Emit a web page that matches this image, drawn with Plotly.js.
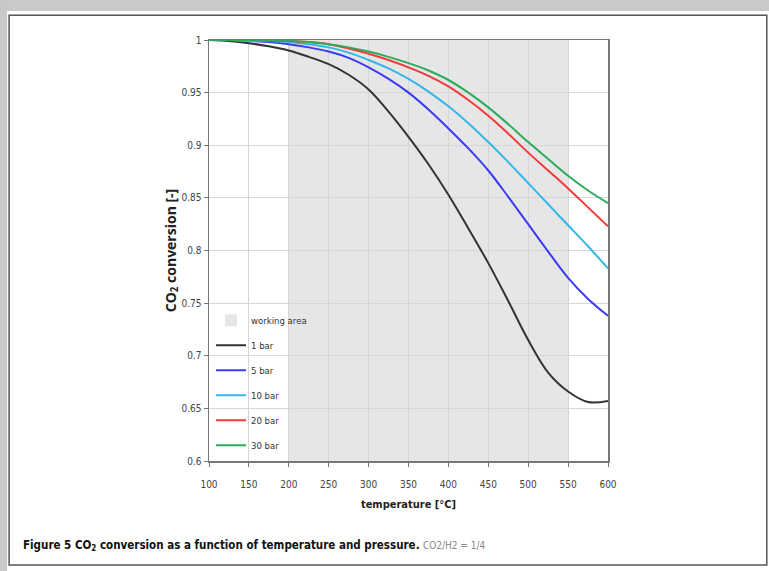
<!DOCTYPE html>
<html>
<head>
<meta charset="utf-8">
<script src="https://cdn.plot.ly/plotly-3.0.1.min.js"></script>
<style>html,body{margin:0;padding:0;background:#fff;}#chart{width:769px;height:571px;}</style>
</head>
<body>
<div id="chart"></div>
<script>
const temperature = [100,125,150,175,200,225,250,275,300,325,350,375,400,425,450,475,500,525,550,575,600];
const bar1  = [1.000,0.999,0.997,0.994,0.990,0.984,0.977,0.967,0.953,0.932,0.908,0.882,0.853,0.821,0.788,0.752,0.715,0.684,0.666,0.656,0.657];
const bar5  = [1.000,1.000,0.999,0.998,0.996,0.993,0.989,0.983,0.974,0.963,0.950,0.934,0.916,0.897,0.876,0.851,0.825,0.799,0.774,0.754,0.738];
const bar10 = [1.000,1.000,0.999,0.999,0.998,0.996,0.993,0.988,0.981,0.973,0.963,0.951,0.937,0.921,0.903,0.884,0.864,0.844,0.824,0.804,0.783];
const bar20 = [1.000,1.000,1.000,0.999,0.999,0.998,0.996,0.992,0.987,0.981,0.974,0.966,0.956,0.943,0.928,0.911,0.893,0.876,0.859,0.841,0.823];
const bar30 = [1.000,1.000,1.000,1.000,0.999,0.998,0.996,0.993,0.989,0.984,0.978,0.971,0.962,0.950,0.936,0.920,0.903,0.887,0.871,0.857,0.845];
const seriesNames = ['1 bar','5 bar','10 bar','20 bar','30 bar'];
const seriesColors = ['#333333','#3b3bf5','#35b6ea','#f23a3a','#2eaa5c'];
const workingArea = [200, 550];
const yTicks = [0.6,0.65,0.7,0.75,0.8,0.85,0.9,0.95,1];
const yTickText = ['0.6','0.65','0.7','0.75','0.8','0.85','0.9','0.95','1'];
const xTicks = [100,150,200,250,300,350,400,450,500,550,600];

const narrow = '"DejaVu Sans Condensed", "Liberation Sans Narrow", "Liberation Sans", sans-serif';
const allSeries = [bar1, bar5, bar10, bar20, bar30];
const traces = allSeries.map((ys, i) => ({
  x: temperature, y: ys, type: 'scatter', mode: 'lines', name: seriesNames[i],
  line: {color: seriesColors[i], width: 2, shape: 'spline', smoothing: 1},
  legendgroup: 'g' + i
}));

const layout = {
  width: 769, height: 571,
  margin: {l: 209, r: 161, t: 40, b: 110},
  paper_bgcolor: '#ffffff', plot_bgcolor: '#ffffff',
  showlegend: true,
  legend: {x: 0.005, y: 0.369, xanchor: 'left', yanchor: 'top', bgcolor: 'rgba(0,0,0,0)',
           font: {family: narrow, size: 9.5, color: '#333'}, traceorder: 'grouped', tracegroupgap: 6,
           itemwidth: 30},
  xaxis: {range: [100, 600], tickvals: xTicks, ticktext: xTicks.map(String),
          showgrid: true, gridcolor: '#d6d6d6', gridwidth: 1, zeroline: false,
          showline: true, linecolor: '#777', linewidth: 1.5, mirror: true,
          ticks: 'outside', ticklen: 4, tickcolor: '#777', ticklabelstandoff: 9,
          tickfont: {family: narrow, size: 10, color: '#444'},
          title: {text: 'temperature [°C]', font: {family: narrow, size: 11, color: '#222', weight: 'bold'}, standoff: 12}},
  yaxis: {range: [0.6, 1], tickvals: yTicks, ticktext: yTickText,
          showgrid: true, gridcolor: '#d6d6d6', gridwidth: 1, zeroline: false,
          showline: true, linecolor: '#777', linewidth: 1.5, mirror: true,
          ticks: 'outside', ticklen: 4, tickcolor: '#777',
          tickfont: {family: narrow, size: 10, color: '#444'},
          title: {text: 'CO<sub>2</sub> conversion [-]', font: {family: '"Open Sans", "Liberation Sans", sans-serif', size: 14, color: '#222', weight: 'bold'}, standoff: 0}},
  shapes: [
    {type: 'rect', xref: 'x', yref: 'paper', x0: workingArea[0], x1: workingArea[1], y0: 0, y1: 1,
     fillcolor: '#e6e6e6', line: {width: 0}, layer: 'below', showlegend: true, name: 'working area',
     legendrank: 1, legendgroup: 'wa'},
    {type: 'rect', xref: 'paper', yref: 'paper', x0: -0.53, x1: 1.41, y0: 1.069, y1: 1.1, fillcolor: '#c9c9c9', line: {width: 0}, layer: 'below'},
    {type: 'rect', xref: 'paper', yref: 'paper', x0: -0.53, x1: -0.506, y0: -0.3, y1: 1.1, fillcolor: '#c9c9c9', line: {width: 0}, layer: 'below'},
    {type: 'rect', xref: 'paper', yref: 'paper', x0: -0.501, x1: 1.398, y0: -0.247, y1: 1.059, fillcolor: 'rgba(0,0,0,0)', line: {color: '#555', width: 1.5}, layer: 'below'}
  ],
  annotations: [
    {xref: 'paper', yref: 'paper', x: -0.47, y: -0.2, xanchor: 'left', yanchor: 'middle', showarrow: false,
     text: '<b>Figure 5 CO<sub>2</sub> conversion as a function of temperature and pressure.</b> <span style="color:#888;font-size:10px">CO2/H2 = 1/4</span>',
     font: {family: narrow, size: 11.5, color: '#111'}}
  ]
};

Plotly.newPlot('chart', traces, layout, {displayModeBar: false, staticPlot: true});
</script>
</body>
</html>
